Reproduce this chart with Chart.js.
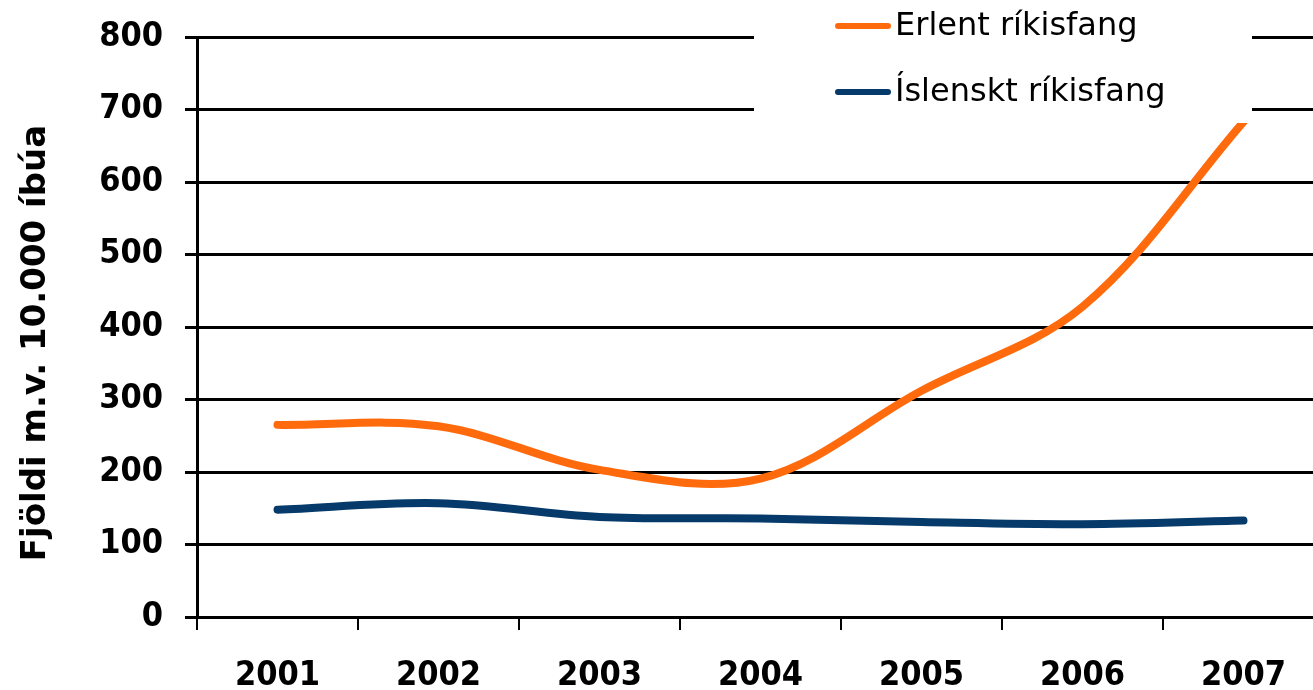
<!DOCTYPE html>
<html>
<head>
<meta charset="utf-8">
<script src="https://cdn.jsdelivr.net/npm/chart.js@4/dist/chart.umd.min.js"></script>
<style>
html,body{margin:0;padding:0;background:#fff;overflow:hidden;}
#wrap{position:relative;width:1330px;height:690px;}
</style>
</head>
<body>
<div id="wrap"><canvas id="chart"></canvas></div>
<script>
// data
let years = ['2001','2002','2003','2004','2005','2006','2007'];
let erlent = [265, 263, 203, 191, 312, 428, 683];
let islenskt = [148, 157, 138, 136, 131, 128, 133];
let seriesNames = ['Erlent ríkisfang', 'Íslenskt ríkisfang'];
let yTitle = 'Fjöldi m.v. 10.000 íbúa';

let orange = '#ff6a0d';
let navy = '#063a6b';

/* y axis title + legend box drawn on top */
let extras = {
id:'extras',
afterDatasetsDraw(chart){
let ctx = chart.ctx;
ctx.save();
// legend box
ctx.fillStyle = '#fff';
ctx.fillRect(754, 0, 498, 123);
ctx.lineCap = 'round';
ctx.lineWidth = 6;
ctx.font = '32px "DejaVu Sans"';
ctx.textBaseline = 'middle';
let rows = [26, 92];
chart.data.datasets.forEach(function(ds, i){
ctx.strokeStyle = ds.borderColor;
ctx.beginPath();
ctx.moveTo(838, rows[i]);
ctx.lineTo(888, rows[i]);
ctx.stroke();
ctx.fillStyle = '#000';
ctx.fillText(ds.label, 895, rows[i] + 1);
});
// y title
ctx.translate(36, 343);
ctx.rotate(-Math.PI/2);
ctx.textAlign = 'center';
ctx.font = 'bold 34px "DejaVu Sans"';
ctx.fillText(yTitle, 0, 0);
ctx.restore();
}
};

let tickFont = {family:'DejaVu Sans Condensed',size:34,weight:'bold'};

let ctx = document.getElementById('chart').getContext('2d');

new Chart(ctx,{
type:'line',
data:{
labels:years,
datasets:[{
label:seriesNames[0],
data:erlent,
borderColor:orange,
borderWidth:8,
tension:0.35,
pointRadius:0,
borderCapStyle:'round'
},{
label:seriesNames[1],
data:islenskt,
borderColor:navy,
borderWidth:8,
tension:0.35,
pointRadius:0,
borderCapStyle:'round'
}]
},
options:{
responsive:true,
maintainAspectRatio:false,
animation:false,
layout:{padding:{top:37,right:6,left:0,bottom:0}},
plugins:{legend:{display:false},tooltip:{enabled:false}},
scales:{
x:{
offset:true,
grid:{offset:true,drawOnChartArea:false,color:'#000',lineWidth:2,tickLength:13},
border:{color:'#000',width:3},
ticks:{color:'#000',font:tickFont,padding:26,maxRotation:0},
afterFit(s){ s.height = 73; }
},
y:{
min:0,max:800,
ticks:{stepSize:100,color:'#000',font:tickFont,padding:22},
grid:{color:'#000',lineWidth:3,tickLength:12},
border:{color:'#000',width:3},
afterFit(s){ s.width = 197; s.paddingTop = 0; s.paddingBottom = 0; }
}
}
},
plugins:[extras]
});
</script>
</body>
</html>
